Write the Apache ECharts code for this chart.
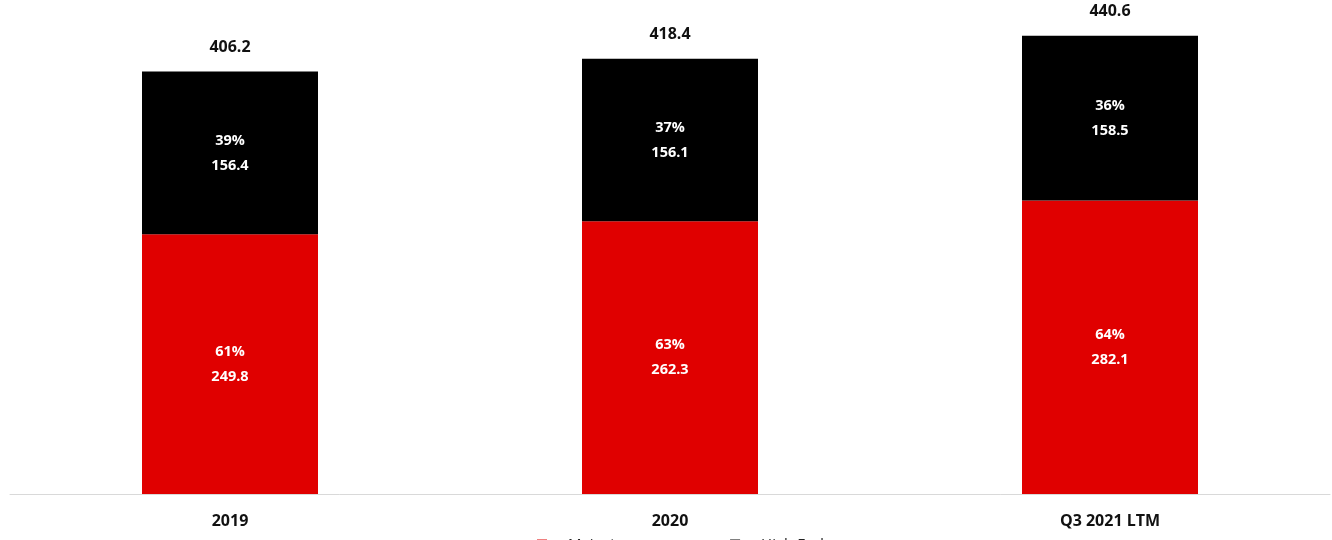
<!DOCTYPE html>
<html>
<head>
<meta charset="utf-8">
<script src="https://cdn.jsdelivr.net/npm/echarts@6/dist/echarts.min.js"></script>
<style>
  html, body { margin: 0; padding: 0; background: #fff; }
  #chart { width: 1332px; height: 540px; }
</style>
</head>
<body>
<div id="chart"></div>
<script>
// Revenue split by segment
const categories = ['2019', '2020', 'Q3 2021 LTM'];
const mainstream = [249.8, 262.3, 282.1];
const highEnd = [156.4, 156.1, 158.5];
const totals = [406.2, 418.4, 440.6];
const mainstreamPct = ['61%', '63%', '64%'];
const highEndPct = ['39%', '37%', '36%'];

const FONT = '"Open Sans", "Liberation Sans", sans-serif';
const chart = echarts.init(document.getElementById('chart'));

const insideLabel = (pcts, vals) => ({
  show: true,
  position: 'inside',
  color: '#fff',
  fontFamily: FONT,
  fontWeight: 'bold',
  fontSize: 14.5,
  lineHeight: 25,
  formatter: p => pcts[p.dataIndex] + '\n' + vals[p.dataIndex].toFixed(1)
});

chart.setOption({
  animation: false,
  grid: { left: 10, right: 2, top: 0, bottom: 46 },
  legend: {
    top: 532,
    left: 532,
    itemWidth: 10,
    itemHeight: 10,
    itemGap: 78,
    icon: 'rect',
    data: ['Mainstream', 'High End'],
    textStyle: { fontFamily: FONT, fontSize: 15, color: '#222', padding: [0, 0, 0, 16] }
  },
  xAxis: {
    type: 'category',
    data: categories,
    axisLine: { lineStyle: { color: '#d9d9d9', width: 1 } },
    axisTick: { show: false },
    axisLabel: {
      color: '#111',
      fontFamily: FONT,
      fontWeight: 'bold',
      fontSize: 16,
      margin: 19
    }
  },
  yAxis: {
    type: 'value',
    min: 0,
    max: 475,
    show: false,
    splitLine: { show: false }
  },
  series: [
    {
      name: 'Mainstream',
      type: 'bar',
      stack: 'rev',
      barWidth: '40%',
      data: mainstream,
      itemStyle: { color: '#e00000' },
      label: insideLabel(mainstreamPct, mainstream)
    },
    {
      name: 'High End',
      type: 'bar',
      stack: 'rev',
      barWidth: '40%',
      data: highEnd,
      itemStyle: { color: '#000000' },
      label: insideLabel(highEndPct, highEnd)
    },
    {
      name: 'Total',
      type: 'bar',
      stack: 'rev',
      barWidth: '40%',
      data: totals.map(() => 0),
      itemStyle: { color: 'transparent' },
      label: {
        show: true,
        position: 'top',
        distance: 16,
        color: '#111',
        fontFamily: FONT,
        fontWeight: 'bold',
        fontSize: 16,
        formatter: p => totals[p.dataIndex].toFixed(1)
      }
    }
  ]
});
</script>
</body>
</html>
